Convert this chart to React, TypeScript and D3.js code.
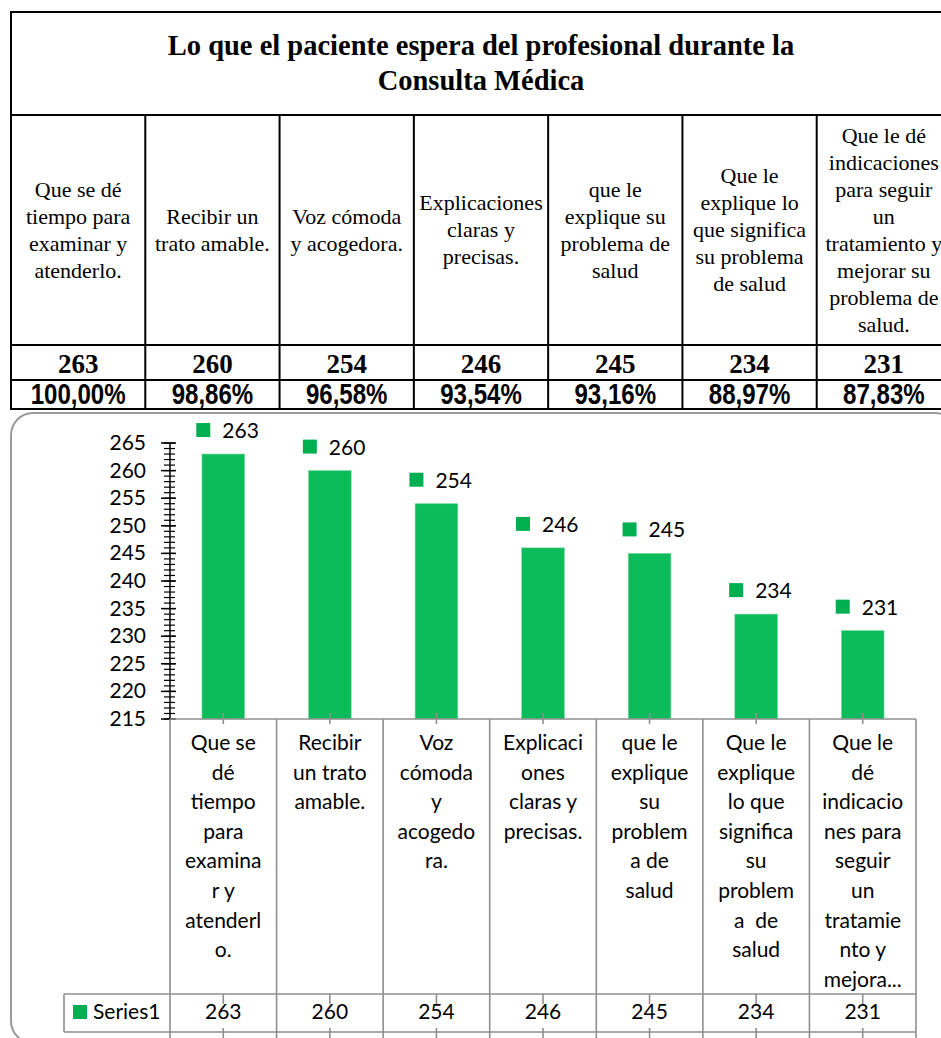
import React from "react";
import * as d3 from "d3";

const titleLines = [
  "Lo que el paciente espera del profesional durante la",
  "Consulta Médica",
];

const headerLabels: string[][] = [
  ["Que se dé", "tiempo para", "examinar y", "atenderlo."],
  ["Recibir un", "trato amable."],
  ["Voz cómoda", "y acogedora."],
  ["Explicaciones", "claras y", "precisas."],
  ["que le", "explique su", "problema de", "salud"],
  ["Que le", "explique lo", "que significa", "su problema", "de salud"],
  ["Que le dé", "indicaciones", "para seguir", "un", "tratamiento y", "mejorar su", "problema de", "salud."],
];

const values = [263, 260, 254, 246, 245, 234, 231];
const percentages = ["100,00%", "98,86%", "96,58%", "93,54%", "93,16%", "88,97%", "87,83%"];

const axisLabels: string[][] = [
  ["Que se", "dé", "tiempo", "para", "examina", "r y", "atenderl", "o."],
  ["Recibir", "un trato", "amable."],
  ["Voz", "cómoda", "y", "acogedo", "ra."],
  ["Explicaci", "ones", "claras y", "precisas."],
  ["que le", "explique", "su", "problem", "a de", "salud"],
  ["Que le", "explique", "lo que", "significa", "su", "problem", "a  de", "salud"],
  ["Que le", "dé", "indicacio", "nes para", "seguir", "un", "tratamie", "nto y", "mejora..."],
];

const seriesName = "Series1";
const yDomain = [215, 265];
const yMajorStep = 5;

const SERIF = "'Liberation Serif', 'Times New Roman', serif";
const SANS = "Lato, Carlito, Calibri, sans-serif";
const ARIAL = "'Liberation Sans', Arial, sans-serif";
const BAR = "#0cbb5a";
const MARK = "#00b050";
const GRID = "#8f8f8f";

export default function App() {
  const W = 941;
  const H = 1038;

  // top table
  const idx = d3.range(values.length);
  const col = d3.scaleBand<number>().domain(idx).range([11, 951]);
  const tTop = 12, tHead = 115, tNum = 345, tPct = 380, tBot = 409;
  const headCenter = (tHead + tNum) / 2;
  const headLH = 27;

  // chart
  const plotL = 170, plotR = 916;
  const x = d3.scaleBand<number>().domain(idx).range([plotL, plotR]).paddingInner(0.6).paddingOuter(0.3);
  const step = x.step();
  const cx = (i: number) => (x(i) as number) + x.bandwidth() / 2;
  const y = d3.scaleLinear().domain(yDomain).range([719, 443]);
  const axisY = y(yDomain[0]);
  const minorTicks = d3.range(yDomain[0], yDomain[1] + 1, 1);
  const majorTicks = d3.range(yDomain[0], yDomain[1] + 1, yMajorStep);
  const seriesTop = 994, seriesBot = 1032;
  const catLH = 29.6;

  return (
    <div style={{ position: "absolute", left: 0, top: 0 }}>
      <svg width={W} height={H} viewBox={`0 0 ${W} ${H}`} style={{ display: "block", background: "#fff" }}>
        <rect x={0} y={0} width={W} height={H} fill="#fff" />

        {/* ===== Top table ===== */}
        <g stroke="#000" strokeWidth={2} fill="none">
          <rect x={11} y={tTop} width={940} height={tBot - tTop} />
          <line x1={11} x2={951} y1={tHead} y2={tHead} />
          <line x1={11} x2={951} y1={tNum} y2={tNum} />
          <line x1={11} x2={951} y1={tPct} y2={tPct} />
          {idx.slice(1).map((i) => (
            <line key={i} x1={col(i)} x2={col(i)} y1={tHead} y2={tBot} />
          ))}
        </g>
        {titleLines.map((t, k) => (
          <text key={k} x={481} y={55 + k * 35} textAnchor="middle" fontFamily={SERIF} fontWeight="bold" fontSize={28.5} fill="#000">
            {t}
          </text>
        ))}
        {headerLabels.map((lines, i) => {
          const c = (col(i) as number) + col.bandwidth() / 2;
          const first = headCenter - ((lines.length - 1) * headLH) / 2 + 7;
          return lines.map((ln, k) => (
            <text key={`${i}-${k}`} x={c} y={first + k * headLH} textAnchor="middle" fontFamily={SERIF} fontSize={22} fill="#000">
              {ln}
            </text>
          ));
        })}
        {values.map((v, i) => (
          <text key={i} x={(col(i) as number) + col.bandwidth() / 2} y={373} textAnchor="middle" fontFamily={SERIF} fontWeight="bold" fontSize={27} fill="#000">
            {v}
          </text>
        ))}
        {percentages.map((p, i) => {
          const c = (col(i) as number) + col.bandwidth() / 2;
          return (
            <text key={i} transform={`translate(${c},404) scale(0.83,1)`} x={0} y={0} textAnchor="middle" fontFamily={ARIAL} fontWeight="bold" fontSize={29} fill="#000">
              {p}
            </text>
          );
        })}

        {/* ===== Chart area ===== */}
        <rect x={11} y={413} width={946} height={630} rx={22} ry={22} fill="none" stroke="#9a9a9a" strokeWidth={2} />

        {/* bars */}
        {values.map((v, i) => (
          <rect key={i} x={x(i)} y={y(v)} width={x.bandwidth()} height={axisY - y(v)} fill={BAR} stroke="#6fd89c" strokeWidth={0.6} />
        ))}

        {/* data labels */}
        {values.map((v, i) => {
          const c = cx(i);
          const ty = y(v) - 16;
          return (
            <g key={i}>
              <rect x={c - 27} y={ty - 15} width={14} height={14} fill={MARK} />
              <text x={c - 1} y={ty} fontFamily={SANS} fontSize={21} fill="#000">
                {v}
              </text>
            </g>
          );
        })}

        {/* y axis */}
        <line x1={plotL} x2={plotL} y1={y(yDomain[1])} y2={axisY} stroke="#000" strokeWidth={1.5} />
        {minorTicks.map((t) => (
          <line key={`m${t}`} x1={164} x2={175} y1={y(t)} y2={y(t)} stroke="#000" strokeWidth={1.2} />
        ))}
        {majorTicks.map((t) => (
          <line key={`M${t}`} x1={161} x2={176} y1={y(t)} y2={y(t)} stroke="#000" strokeWidth={1.5} />
        ))}
        {majorTicks.map((t) => (
          <text key={`l${t}`} x={146} y={y(t) + 7} textAnchor="end" fontFamily={SANS} fontSize={21} fill="#000">
            {t}
          </text>
        ))}

        {/* category/data table */}
        <g stroke={GRID} strokeWidth={1.6} fill="none">
          <line x1={plotL} x2={plotR} y1={axisY} y2={axisY} />
          <line x1={64} x2={plotR} y1={seriesTop} y2={seriesTop} />
          <line x1={64} x2={plotR} y1={seriesBot} y2={seriesBot} />
          <line x1={64} x2={64} y1={seriesTop} y2={seriesBot} />
          {d3.range(values.length + 1).map((k) => (
            <line key={k} x1={plotL + k * step} x2={plotL + k * step} y1={axisY} y2={H} />
          ))}
          {idx.map((i) => (
            <g key={i}>
              <line x1={cx(i)} x2={cx(i)} y1={axisY - 6} y2={axisY + 5} />
              <line x1={cx(i)} x2={cx(i)} y1={seriesTop} y2={seriesTop + 10} />
              <line x1={cx(i)} x2={cx(i)} y1={seriesBot - 4} y2={H} />
            </g>
          ))}
        </g>
        {axisLabels.map((lines, i) =>
          lines.map((ln, k) => (
            <text key={`${i}-${k}`} x={cx(i)} y={750 + k * catLH} textAnchor="middle" fontFamily={SANS} fontSize={21} fill="#000" style={{ whiteSpace: "pre" }}>
              {ln}
            </text>
          ))
        )}
        <rect x={73} y={1005} width={14} height={14} fill={MARK} />
        <text x={93} y={1019} fontFamily={SANS} fontSize={21} fill="#000">
          {seriesName}
        </text>
        {values.map((v, i) => (
          <text key={i} x={cx(i)} y={1019} textAnchor="middle" fontFamily={SANS} fontSize={21} fill="#000">
            {v}
          </text>
        ))}
      </svg>
    </div>
  );
}
